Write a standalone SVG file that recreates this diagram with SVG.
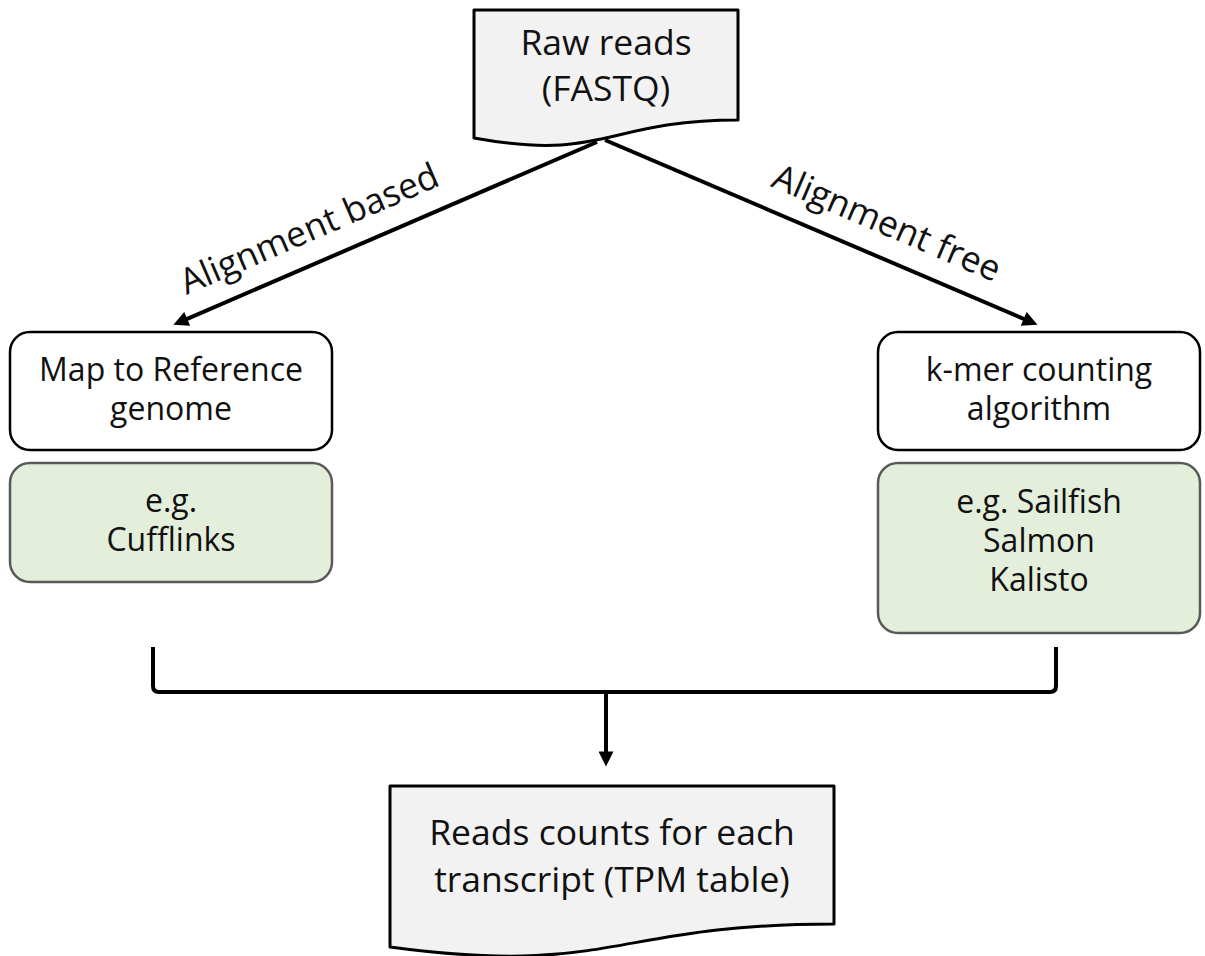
<svg xmlns="http://www.w3.org/2000/svg" width="1205" height="956" viewBox="0 0 1205 956">
<style>
  .t { font-family: "Open Sans", "Liberation Sans", sans-serif; fill: #111; text-anchor: middle; }
  .big { font-size: 35.5px; }
  .box { font-size: 32px; }
  .doc { fill: #f2f2f2; stroke: #000; stroke-width: 3; stroke-linejoin: round; }
  .white { fill: #fff; stroke: #000; stroke-width: 2.5; }
  .green { fill: #e3eedb; stroke: #595959; stroke-width: 2.5; }
  .conn { fill: none; stroke: #000; stroke-width: 4; }
</style>
<defs>
  <marker id="ah" viewBox="0 0 16 16" refX="8" refY="8" markerWidth="16" markerHeight="15" markerUnits="userSpaceOnUse" orient="auto">
    <path d="M0,0 L16,8 L0,16 Z" fill="#000"/>
  </marker>
</defs>
<rect width="1205" height="956" fill="#fff"/>

<g id="connectors">
  <line class="conn" x1="597" y1="142" x2="180.3" y2="321.8" marker-end="url(#ah)"/>
  <line class="conn" x1="605" y1="140" x2="1030.6" y2="321.8" marker-end="url(#ah)"/>
  <path class="conn" d="M153,647 V686 Q153,692 159,692 H1050 Q1056,692 1056,686 V647" stroke-width="4.5"/>
  <line class="conn" x1="606" y1="692" x2="606" y2="759" marker-end="url(#ah)"/>
  <text class="t big" transform="translate(314,240) rotate(-23.35)">Alignment based</text>
  <text class="t big" transform="translate(882,234) rotate(23.2)">Alignment free</text>
</g>

<g id="raw-reads">
  <path class="doc" d="M474,10 H738 V120 C606,120 606,162 474,138 Z"/>
  <text class="t big" x="606" y="55">Raw reads</text>
  <text class="t big" x="606" y="101">(FASTQ)</text>
</g>

<g id="map-reference">
  <rect class="white" x="10" y="332" width="322" height="118" rx="20"/>
  <text class="t box" x="171" y="381">Map to Reference</text>
  <text class="t box" x="171" y="420">genome</text>
</g>

<g id="cufflinks">
  <rect class="green" x="10" y="463" width="322" height="119" rx="20"/>
  <text class="t box" x="171" y="512">e.g.</text>
  <text class="t box" x="171" y="551">Cufflinks</text>
</g>

<g id="kmer">
  <rect class="white" x="878" y="332" width="322" height="118" rx="20"/>
  <text class="t box" x="1039" y="381">k-mer counting</text>
  <text class="t box" x="1039" y="420">algorithm</text>
</g>

<g id="sailfish">
  <rect class="green" x="878" y="463" width="322" height="170" rx="20"/>
  <text class="t box" x="1039" y="513">e.g. Sailfish</text>
  <text class="t box" x="1039" y="552">Salmon</text>
  <text class="t box" x="1039" y="591">Kalisto</text>
</g>

<g id="read-counts">
  <path class="doc" d="M390,786 H834 V924 C612,924 612,977 390,947 Z"/>
  <text class="t big" x="612" y="845">Reads counts for each</text>
  <text class="t big" x="612" y="892">transcript (TPM table)</text>
</g>
</svg>
